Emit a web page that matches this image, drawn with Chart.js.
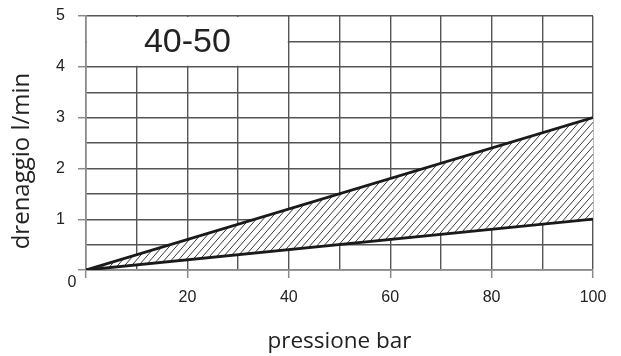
<!DOCTYPE html>
<html>
<head>
<meta charset="utf-8">
<script src="https://cdn.jsdelivr.net/npm/chart.js@4"></script>
<style>
  html, body { margin: 0; padding: 0; background: #fff; }
  #wrap { width: 621px; height: 356px; }
</style>
</head>
<body>
<div id="wrap"><canvas id="myChart" width="621" height="356"></canvas></div>
<script>
// pressure (bar) vs drainage (l/min), band between min and max
const pressure = [0, 100];
const drainMax = [0, 3];
const drainMin = [0, 1];
const yLabels = [1, 2, 3, 4, 5];
const xLabels = [20, 40, 60, 80, 100];
const boxText = "40-50";

const LINE = "#1a1a1a";
const GRID = "#555";
const TICK = "#8a8a8a";

// diagonal hatch on white, so the grid doesn't show through the band
function hatch() {
    const w = 7, h = 8;
    const c = document.createElement("canvas");
    c.width = w; c.height = h;
    const g = c.getContext("2d");
    g.fillStyle = "#fff";
    g.fillRect(0, 0, w, h);
    g.strokeStyle = "#222";
    g.lineWidth = 0.9;
    g.beginPath();
    for (const dx of [-w, 0, w]) {
        g.moveTo(dx, h);
        g.lineTo(dx + w, 0);
    }
    g.stroke();
    return g.createPattern(c, "repeat");
}

const ctx = document.getElementById("myChart").getContext("2d");

const labelBox = {
    id: "labelBox",
    beforeDatasetsDraw(chart) {
        const {ctx, scales: {x, y}} = chart;
        const x0 = x.getPixelForValue(0), x1 = x.getPixelForValue(40);
        const y0 = y.getPixelForValue(5), y1 = y.getPixelForValue(4);
        ctx.save();
        ctx.fillStyle = "#fff";
        ctx.fillRect(x0 + 1, y0 + 1, x1 - x0 - 2, y1 - y0 - 2);
        ctx.fillStyle = "#222";
        ctx.font = "34px 'Liberation Sans'";
        ctx.textAlign = "center";
        ctx.textBaseline = "middle";
        ctx.fillText(boxText, (x0 + x1) / 2, (y0 + y1) / 2 + 1);
        ctx.restore();
    },
    afterDraw(chart) {
        const {ctx, scales: {x, y}} = chart;
        ctx.save();
        // origin label sits below the corner
        ctx.fillStyle = "#222";
        ctx.font = "16px 'Liberation Sans'";
        ctx.textAlign = "center";
        ctx.textBaseline = "middle";
        ctx.fillText("0", x.getPixelForValue(0) - 14, y.getPixelForValue(0) + 13);
        // y axis title
        ctx.translate(22, 161);
        ctx.rotate(-Math.PI / 2);
        ctx.font = "24px 'Open Sans'";
        ctx.fillText("drenaggio l/min", 0, 0);
        ctx.restore();
    }
};

new Chart(ctx, {
    type: "line",
    data: {
        datasets: [{
            data: pressure.map((p, i) => ({x: p, y: drainMax[i]})),
            borderColor: LINE,
            borderWidth: 2.8,
            pointRadius: 0,
            fill: "+1",
            backgroundColor: hatch()
        }, {
            data: pressure.map((p, i) => ({x: p, y: drainMin[i]})),
            borderColor: LINE,
            borderWidth: 2.8,
            pointRadius: 0,
            fill: false
        }]
    },
    options: {
        responsive: false,
        animation: false,
        layout: {padding: {top: 16, right: 28, left: 0, bottom: 0}},
        plugins: {
            legend: {display: false},
            tooltip: {enabled: false},
            filler: {drawTime: "beforeDatasetsDraw"}
        },
        scales: {
            x: {
                type: "linear",
                min: 0, max: 100,
                afterFit(scale) { scale.height = 86; },
                border: {color: TICK, width: 1.5},
                grid: {
                    color: GRID,
                    lineWidth: 1.4,
                    tickLength: 8,
                    tickColor: c => (c.tick && c.tick.value % 20 === 0) ? TICK : "rgba(0,0,0,0)",
                    tickWidth: 1.5
                },
                ticks: {
                    stepSize: 10,
                    maxRotation: 0,
                    autoSkip: false,
                    padding: 10,
                    color: "#222",
                    font: {family: "Liberation Sans", size: 16},
                    callback: v => xLabels.includes(v) ? v : ""
                },
                title: {
                    display: true,
                    text: "pressione bar",
                    color: "#222",
                    font: {family: "Open Sans", size: 22.5},
                    padding: {top: 0, bottom: 1}
                }
            },
            y: {
                min: 0, max: 5,
                afterFit(scale) {
                    scale.width = 86;
                    scale.paddingTop = 0;
                    scale.paddingBottom = 0;
                },
                border: {color: TICK, width: 1.5},
                grid: {
                    color: GRID,
                    lineWidth: 1.4,
                    tickLength: 8,
                    tickColor: c => (c.tick && Number.isInteger(c.tick.value)) ? TICK : "rgba(0,0,0,0)",
                    tickWidth: 1.5
                },
                ticks: {
                    stepSize: 0.5,
                    autoSkip: false,
                    padding: 13,
                    color: "#222",
                    font: {family: "Liberation Sans", size: 16},
                    callback: v => yLabels.includes(v) ? v : ""
                }
            }
        }
    },
    plugins: [labelBox]
});
</script>
</body>
</html>
